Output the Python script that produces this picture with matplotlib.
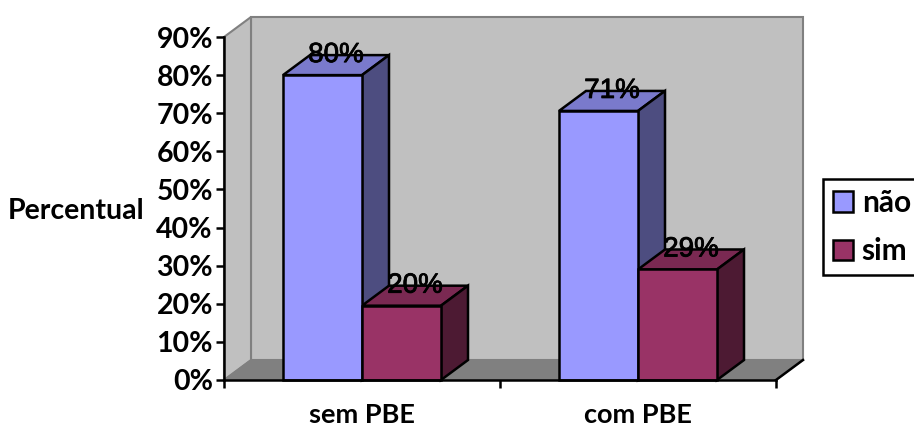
# -*- coding: utf-8 -*-
import numpy as np
import matplotlib.pyplot as plt
import matplotlib.patheffects as pe
from matplotlib.patches import Patch

categories = ['sem PBE', 'com PBE']
nao_vals = [80, 70.6]
sim_vals = [19.5, 29]
nao_labels = ['80%', '71%']
sim_labels = ['20%', '29%']
y_ticks = [0, 10, 20, 30, 40, 50, 60, 70, 80, 90]

W = 914 ; H = 428
bar_w = 79/276
dep_x = 27/276     # depth of the fake 3d box, data units
dep_y = 20/(343/90)
lw = 1.8

plt.rcParams['font.family'] = ['Lato', 'DejaVu Sans']

fig = plt.figure(figsize=(W/100, H/100), dpi=100)
ax = fig.add_axes([224/W, 1-380/H, 552/W, 343/H])
ax.set_xlim(-0.5, 1.5)
ax.set_ylim(0, 90)
ax.patch.set_visible(False)

def box(xl, val, front, top, side):
    xr = xl + bar_w
    ax.fill([xl, xr, xr+dep_x, xl+dep_x], [val, val, val+dep_y, val+dep_y], facecolor=top,
            edgecolor='k', lw=lw, clip_on=False, zorder=4)
    ax.fill([xr, xr+dep_x, xr+dep_x, xr], [0, dep_y, val+dep_y, val], facecolor=side,
            edgecolor='k', lw=lw, clip_on=False, zorder=4)
    ax.bar(xl, val, bar_w, align='edge', color=front, edgecolor='k', lw=lw, clip_on=False, zorder=5)

#%% walls
ax.fill([-0.5+dep_x, 1.5+dep_x, 1.5+dep_x, -0.5+dep_x], [dep_y, dep_y, 90+dep_y, 90+dep_y],
        facecolor='#c0c0c0', edgecolor='#808080', lw=1.5, clip_on=False, zorder=1)
ax.fill([-0.5, -0.5+dep_x, -0.5+dep_x, -0.5], [0, dep_y, 90+dep_y, 90], facecolor='#c0c0c0',
        edgecolor='#808080', lw=1.5, clip_on=False, zorder=1)
ax.fill([-0.5, 1.5, 1.5+dep_x, -0.5+dep_x], [0, 0, dep_y, dep_y], facecolor='#808080',
        edgecolor='#808080', lw=1, clip_on=False, zorder=2)
ax.plot([1.5, 1.5+dep_x], [0, dep_y], 'k', lw=lw, clip_on=False, zorder=3)

#%% bars
for i in range(len(categories)):
    box(i-bar_w, nao_vals[i], '#9999ff', '#7a7acc', '#4d4d80')
    box(i, sim_vals[i], '#993366', '#7a2952', '#4d1a33')

stroke = [pe.withStroke(linewidth=0.6, foreground='k')]
for i in range(len(categories)):
    ax.text(i-bar_w/2+dep_x/2, nao_vals[i]+dep_y, nao_labels[i], ha='center', va='center',
            family='Liberation Sans', fontsize=20, zorder=7, path_effects=stroke)
    ax.text(i+bar_w/2+dep_x/2, sim_vals[i]+dep_y, sim_labels[i], ha='center', va='center',
            family='Liberation Sans', fontsize=20, zorder=7, path_effects=stroke)

#%% axes
for s in ['top', 'right']:
    ax.spines[s].set_visible(False)
for s in ['left', 'bottom']:
    ax.spines[s].set_linewidth(lw)
    ax.spines[s].set_zorder(6)
ax.set_yticks(y_ticks)
ax.set_yticklabels([str(v)+'%' for v in y_ticks], fontsize=20.5, fontweight='bold')
ax.set_xticks([-0.5, 0.5, 1.5])
ax.set_xticklabels(['', '', ''])
ax.tick_params(axis='y', length=6, width=lw, pad=2)
ax.tick_params(axis='x', length=6, width=lw)
for i in range(len(categories)):
    ax.text(i, -9.3, categories[i], ha='center', va='center', fontsize=19.5, fontweight='bold')
fig.text(76/W, 1-211/H, 'Percentual', ha='center', va='center', fontsize=20.5, fontweight='bold')

#%% legend
hh = [Patch(facecolor='#9999ff', edgecolor='k', lw=lw), Patch(facecolor='#993366', edgecolor='k', lw=lw)]
leg = fig.legend(hh, ['não', 'sim'], loc='upper left', bbox_to_anchor=(823/W, 1-179/H),
                 frameon=True, fancybox=False, edgecolor='k', framealpha=1, borderaxespad=0, borderpad=0.33,
                 handlelength=0.67, handleheight=0.67, handletextpad=0.3, labelspacing=0.68,
                 prop={'weight': 'bold', 'size': 21.5})
leg.get_frame().set_linewidth(lw)

plt.savefig('out.png', dpi=100)
